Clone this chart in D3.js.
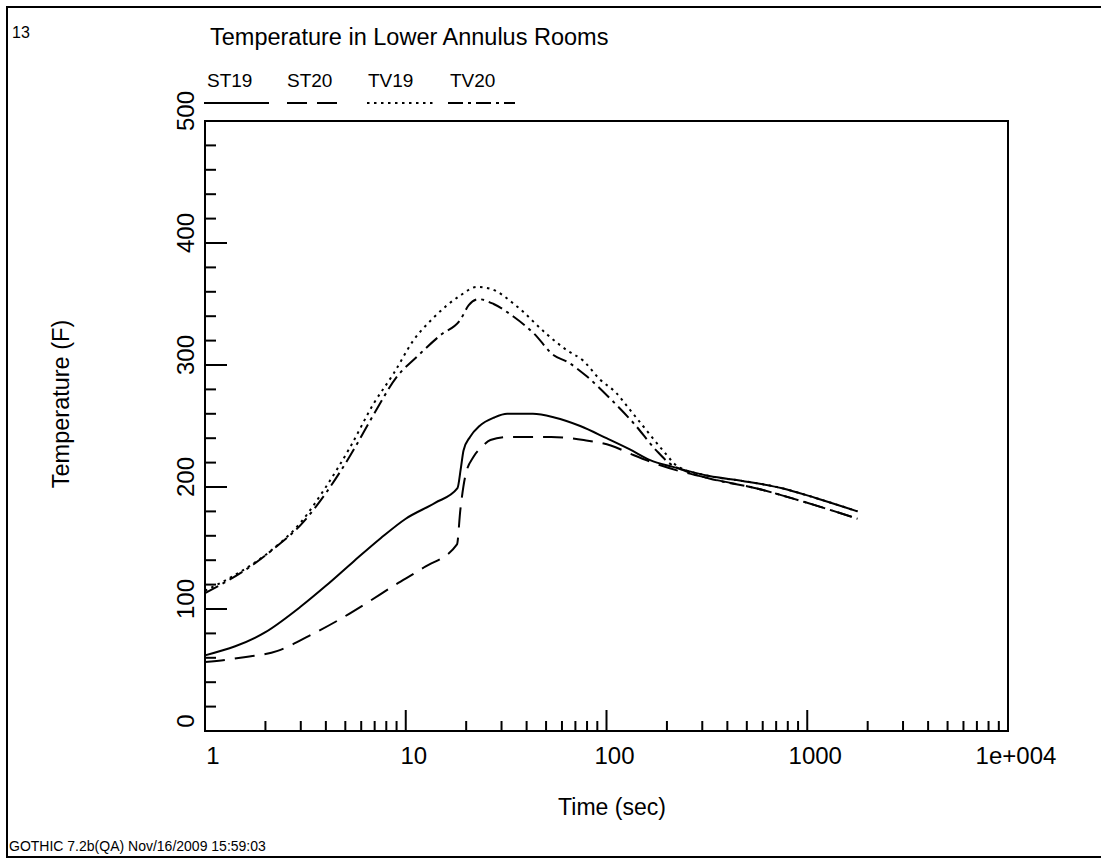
<!DOCTYPE html>
<html>
<head>
<meta charset="utf-8">
<script src="https://cdn.jsdelivr.net/npm/d3@7"></script>
<style>
  html, body { margin: 0; padding: 0; background: #fff; }
  svg { display: block; font-family: "Liberation Sans", Arial, sans-serif; }
</style>
</head>
<body>
<svg id="chart" width="1101" height="859"></svg>
<script>
// ---- data (time in sec, temperature in F) ----
const seriesNames = ["ST19", "ST20", "TV19", "TV20"];

const st19Time = [1, 2, 3, 4, 5.5, 7.5, 10, 14, 18.1, 18.8, 19.4, 20.9, 23.3, 27.6, 32, 43, 55, 74, 100, 130, 165, 214, 325, 475, 750, 1100, 1780];
const st19Temp = [62, 81, 102, 119, 139, 158, 174, 187, 199, 215, 230, 241, 250, 257, 260, 260, 257, 250, 240, 231, 222, 216.5, 209, 205, 199, 191, 180];

const st20Time = [1, 1.5, 2.3, 3.3, 4.7, 6.4, 8.7, 12.3, 18, 18.7, 19.8, 21.8, 24, 26.4, 32, 53, 77, 105, 137, 184, 325, 555, 912, 1780];
const st20Temp = [56.5, 60, 65.7, 78, 91.6, 105, 119, 134, 153, 181, 209, 225, 233, 238.5, 241, 241, 238.5, 234, 226, 218, 207, 199, 189, 174];

const tv19Time = [1, 1.38, 2.1, 3, 4, 5.3, 6.9, 8.7, 10.9, 13.8, 18.7, 22.6, 26.4, 35.8, 50.6, 63.6, 76, 93, 112, 127, 152, 191, 226, 325, 475, 750, 1100, 1780];
const tv19Temp = [115, 127, 147, 171, 200, 233, 268, 293, 320, 339, 357, 364, 362.5, 348, 325, 312, 304, 288, 277, 266, 250, 230, 217, 209, 205, 199, 191, 180];

const tv20Time = [1, 1.74, 2.28, 3, 4, 5.3, 6.9, 9, 11.4, 14.9, 18.7, 20.6, 23, 27.4, 34.5, 43.4, 54.6, 63.6, 80, 105, 137, 177, 206, 239, 325, 555, 912, 1780];
const tv20Temp = [113, 136.5, 151.5, 169, 195, 226, 259, 290, 307, 324.5, 337, 349, 354, 350, 339.5, 326, 308, 302.7, 290.5, 272, 252, 230, 219.4, 214, 207, 199, 189, 174];

const xMajorTicks = [1, 10, 100, 1000, 10000];
const xTickLabels = ["1", "10", "100", "1000", "1e+004"];
const yMajorTicks = [0, 100, 200, 300, 400, 500];
const yTickLabels = ["0", "100", "200", "300", "400", "500"];

const titleText = "Temperature in Lower Annulus Rooms";
const xTitle = "Time (sec)";
const yTitle = "Temperature (F)";
const pageNo = "13";
const footerText = "GOTHIC 7.2b(QA) Nov/16/2009 15:59:03";

// ---- layout ----
const svg = d3.select("#chart");
const L = 205, R = 1008, T = 121, B = 731;

const x = d3.scaleLog().domain([1, 10000]).range([L, R]);
const y = d3.scaleLinear().domain([0, 500]).range([B, T]);

const styles = {
  ST19: null,
  ST20: "20,10",
  TV19: "2.5,4.5",
  TV20: "15,5,3,5"
};

// outer frame
svg.append("rect").attr("x", 7).attr("y", 7).attr("width", 1110).attr("height", 850)
  .attr("fill", "none").attr("stroke", "#000").attr("stroke-width", 2);

// page number & footer
svg.append("text").attr("x", 12).attr("y", 38).attr("font-size", 16).text(pageNo);
svg.append("text").attr("x", 9).attr("y", 851).attr("font-size", 14).text(footerText);

// title
svg.append("text").attr("x", 210).attr("y", 45).attr("font-size", 23.5).text(titleText);

// plot box
svg.append("rect").attr("x", L).attr("y", T).attr("width", R - L).attr("height", B - T)
  .attr("fill", "none").attr("stroke", "#000").attr("stroke-width", 2);

// x ticks
const xAll = x.ticks().filter(v => v > 1 && v < 10000);
const gx = svg.append("g");
xAll.forEach(v => {
  const major = xMajorTicks.includes(v);
  gx.append("line").attr("x1", x(v)).attr("x2", x(v))
    .attr("y1", B).attr("y2", B - (major ? 21 : 10))
    .attr("stroke", "#000").attr("stroke-width", 2);
});
xMajorTicks.forEach((v, i) => {
  gx.append("text").attr("x", x(v) + 8).attr("y", 764).attr("text-anchor", "middle")
    .attr("font-size", 24).text(xTickLabels[i]);
});

// y ticks
const gy = svg.append("g");
d3.range(20, 500, 20).forEach(v => {
  const major = v % 100 === 0;
  gy.append("line").attr("x1", L).attr("x2", L + (major ? 22 : 11))
    .attr("y1", y(v)).attr("y2", y(v)).attr("stroke", "#000").attr("stroke-width", 2);
});
yMajorTicks.forEach((v, i) => {
  gy.append("text").attr("transform", `translate(194,${y(v) - 10}) rotate(-90)`)
    .attr("text-anchor", "middle").attr("font-size", 24).text(yTickLabels[i]);
});

// axis titles
svg.append("text").attr("x", 612).attr("y", 815).attr("text-anchor", "middle")
  .attr("font-size", 23).text(xTitle);
svg.append("text").attr("transform", "translate(69,404) rotate(-90)")
  .attr("text-anchor", "middle").attr("font-size", 23.5).text(yTitle);

// curves
const line = d3.line().x(d => x(d[0])).y(d => y(d[1])).curve(d3.curveMonotoneX);
const series = [
  ["ST19", st19Time, st19Temp],
  ["ST20", st20Time, st20Temp],
  ["TV19", tv19Time, tv19Temp],
  ["TV20", tv20Time, tv20Temp]
];
const plot = svg.append("g");
series.forEach(([name, ts, vs]) => {
  const pts = ts.map((t, i) => [t, vs[i]]);
  plot.append("path").attr("d", line(pts)).attr("fill", "none")
    .attr("stroke", "#000").attr("stroke-width", 2)
    .attr("stroke-dasharray", styles[name]);
});

// legend
const legendX = [[204, 269], [287, 343], [367, 433], [448, 515]];
const legendTextX = [207, 287, 368, 450];
seriesNames.forEach((name, i) => {
  svg.append("text").attr("x", legendTextX[i]).attr("y", 87).attr("font-size", 19).text(name);
  svg.append("line").attr("x1", legendX[i][0]).attr("x2", legendX[i][1])
    .attr("y1", 103).attr("y2", 103).attr("stroke", "#000").attr("stroke-width", 2)
    .attr("stroke-dasharray", styles[name]);
});
</script>
</body>
</html>
